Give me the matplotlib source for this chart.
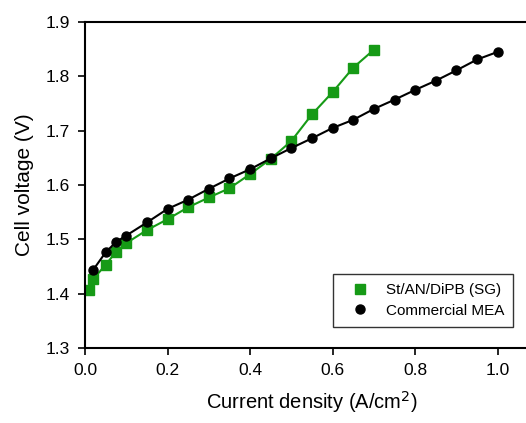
import matplotlib
matplotlib.use('Agg')
import matplotlib.pyplot as plt
from matplotlib import rcParams

rcParams['font.family'] = 'sans-serif'
rcParams['font.sans-serif'] = ['Liberation Sans']
rcParams['xtick.direction'] = 'out'
rcParams['ytick.direction'] = 'out'

# St/AN/DiPB (SG) membrane
sg_current = [0.01, 0.02, 0.05, 0.075, 0.1, 0.15, 0.2, 0.25, 0.3, 0.35,
              0.4, 0.45, 0.5, 0.55, 0.6, 0.65, 0.7]
sg_voltage = [1.407, 1.427, 1.453, 1.477, 1.493, 1.517, 1.537, 1.559, 1.577,
              1.594, 1.620, 1.648, 1.681, 1.730, 1.771, 1.816, 1.849]

# commercial MEA
mea_current = [0.02, 0.05, 0.075, 0.1, 0.15, 0.2, 0.25, 0.3, 0.35, 0.4, 0.45,
               0.5, 0.55, 0.6, 0.65, 0.7, 0.75, 0.8, 0.85, 0.9, 0.95, 1.0]
mea_voltage = [1.444, 1.476, 1.495, 1.507, 1.531, 1.556, 1.573, 1.593, 1.612,
               1.629, 1.649, 1.668, 1.686, 1.705, 1.720, 1.740, 1.757, 1.775,
               1.792, 1.811, 1.831, 1.845]

fig = plt.figure(figsize=(5.26, 4.23), dpi=100)
# right edge of the frame sits just outside the picture
ax = fig.add_axes([85/526, 75/423, 454/526, 326/423])

ax.plot(sg_current, sg_voltage, color='#169a16', marker='s', markersize=6.5,
        linewidth=1.5, label='St/AN/DiPB (SG)')
ax.plot(mea_current, mea_voltage, color='black', marker='o', markersize=6.5,
        linewidth=1.5, label='Commercial MEA')

ax.set_xlim(0, 1.1)
ax.set_ylim(1.3, 1.9)
ax.set_xticks([0.0, 0.2, 0.4, 0.6, 0.8, 1.0])
ax.set_yticks([1.3, 1.4, 1.5, 1.6, 1.7, 1.8, 1.9])
ax.xaxis.set_major_formatter(plt.FormatStrFormatter('%.1f'))
ax.yaxis.set_major_formatter(plt.FormatStrFormatter('%.1f'))
ax.tick_params(axis='both', labelsize=12.5, length=5, width=1.2, pad=6)

for sp in ax.spines.values():
    sp.set_linewidth(1.5)

ax.set_xlabel(r'Current density (A/cm$^{2}$)', fontsize=14.5, labelpad=8)
ax.set_ylabel('Cell voltage (V)', fontsize=15, labelpad=8)

leg = ax.legend(loc='lower left', bbox_to_anchor=(333/526, 96/423),
                bbox_transform=fig.transFigure, fontsize=11, frameon=True,
                fancybox=False, edgecolor='black', handlelength=2.35,
                borderpad=0.6, labelspacing=0.45, handletextpad=0.5,
                borderaxespad=0)
for h in leg.legend_handles:
    h.set_linestyle('')
leg.get_frame().set_linewidth(1.0)

fig.savefig('out.png', dpi=100)
